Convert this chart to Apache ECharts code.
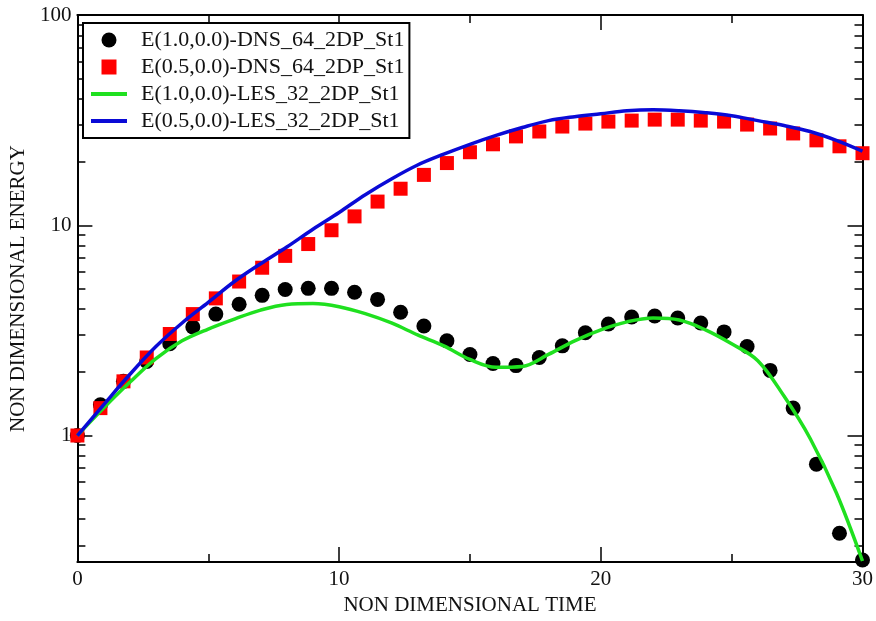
<!DOCTYPE html>
<html>
<head>
<meta charset="utf-8">
<script src="https://cdn.jsdelivr.net/npm/echarts@6/dist/echarts.min.js"></script>
<style>
html,body{margin:0;padding:0;background:#fff;}
#chart{width:876px;height:621px;}
</style>
</head>
<body>
<div id="chart"></div>
<script>
// DNS sample times
const dnsTimes = [0, 0.88, 1.76, 2.65, 3.53, 4.41, 5.29, 6.18, 7.06, 7.94, 8.82, 9.71, 10.59, 11.47, 12.35, 13.24, 14.12, 15.0, 15.88, 16.76, 17.65, 18.53, 19.41, 20.29, 21.18, 22.06, 22.94, 23.82, 24.71, 25.59, 26.47, 27.35, 28.24, 29.12, 30.0];
const dnsE10 = [1.00, 1.40, 1.81, 2.25, 2.73, 3.28, 3.78, 4.21, 4.64, 4.95, 5.01, 5.01, 4.80, 4.44, 3.86, 3.32, 2.82, 2.43, 2.20, 2.15, 2.35, 2.67, 3.08, 3.39, 3.66, 3.70, 3.62, 3.43, 3.11, 2.65, 2.04, 1.35, 0.731, 0.343, 0.256];
const dnsE05 = [1.00, 1.35, 1.81, 2.35, 3.04, 3.78, 4.49, 5.40, 6.28, 7.15, 8.14, 9.47, 11.02, 12.96, 14.92, 17.36, 19.76, 22.25, 24.27, 26.46, 27.92, 29.48, 30.45, 31.12, 31.46, 31.80, 31.80, 31.46, 31.12, 30.12, 28.85, 27.33, 25.34, 23.74, 22.01];
// LES sample times
const lesTimes = [0, 1, 2, 3, 4, 5, 6, 7, 8, 9, 10, 11, 12, 13, 14, 15, 16, 17, 18, 19, 20, 21, 22, 23, 24, 25, 26, 27, 28, 29, 30];
const lesE10 = [1.00, 1.35, 1.79, 2.32, 2.82, 3.21, 3.58, 3.95, 4.20, 4.24, 4.10, 3.80, 3.43, 3.01, 2.67, 2.30, 2.11, 2.13, 2.43, 2.82, 3.18, 3.47, 3.62, 3.54, 3.18, 2.73, 2.27, 1.54, 0.968, 0.534, 0.253];
const lesE05 = [1.00, 1.40, 1.95, 2.65, 3.43, 4.30, 5.40, 6.56, 7.88, 9.58, 11.51, 13.98, 16.60, 19.34, 21.78, 24.27, 26.75, 29.16, 31.46, 32.85, 33.93, 35.04, 35.42, 35.04, 34.29, 33.20, 31.46, 29.81, 27.93, 25.34, 22.50];

const seriesNames = ['E(1.0,0.0)-DNS_64_2DP_St1', 'E(0.5,0.0)-DNS_64_2DP_St1', 'E(1.0,0.0)-LES_32_2DP_St1', 'E(0.5,0.0)-LES_32_2DP_St1'];
const xTickLabels = [0, 10, 20, 30];
const yMajorTicks = [1, 10, 100];
const yMinorTicks = [0.3, 0.4, 0.5, 0.6, 0.7, 0.8, 0.9, 2, 3, 4, 5, 6, 7, 8, 9, 20, 30, 40, 50, 60, 70, 80, 90];
const xTitle = 'NON DIMENSIONAL TIME';
const yTitle = 'NON DIMENSIONAL ENERGY';

const pairs = (xs, ys) => xs.map((x, i) => [x, ys[i]]);

const FONT = 'Liberation Serif';
const axisLineStyle = { color: '#000', width: 2 };
const tickStyle = { color: '#000', width: 1.5 };
const GREEN = '#1fe01f';
const BLUE = '#0a0ad6';

function xAxisDef(pos, showLabels) {
  return {
    type: 'value', position: pos, min: 0, max: 30, interval: 10,
    axisLine: { show: true, onZero: false, lineStyle: axisLineStyle },
    axisTick: { show: true, inside: true, length: 15, lineStyle: tickStyle },
    minorTick: { show: true, splitNumber: 2, length: 8, lineStyle: tickStyle },
    splitLine: { show: false },
    axisLabel: showLabels ? {
      show: true, margin: 7, color: '#111', fontFamily: FONT, fontSize: 21,
      customValues: xTickLabels
    } : { show: false },
    name: showLabels ? xTitle : '',
    nameLocation: 'middle', nameGap: 27,
    nameTextStyle: { color: '#111', fontFamily: FONT, fontSize: 21 }
  };
}
function yAxisDef(pos, ticks, len, showLine, showLabels) {
  return {
    type: 'log', logBase: 10, position: pos, min: 0.25, max: 100,
    axisLine: { show: showLine, onZero: false, lineStyle: axisLineStyle },
    axisTick: { show: true, inside: true, length: len, customValues: ticks, lineStyle: tickStyle },
    minorTick: { show: false },
    splitLine: { show: false },
    axisLabel: showLabels ? {
      show: true, margin: 6, color: '#111', fontFamily: FONT, fontSize: 21,
      customValues: yMajorTicks
    } : { show: false },
    name: showLabels ? yTitle : '',
    nameLocation: 'middle', nameGap: 43,
    nameTextStyle: { color: '#111', fontFamily: FONT, fontSize: 21 }
  };
}

const chart = echarts.init(document.getElementById('chart'), null, { renderer: 'canvas' });
chart.setOption({
  backgroundColor: '#fff',
  animation: false,
  grid: { left: 76, right: 9, top: 15, bottom: 53 },
  xAxis: [xAxisDef('bottom', true), xAxisDef('top', false)],
  yAxis: [
    yAxisDef('left', yMajorTicks, 15, true, true),
    yAxisDef('left', yMinorTicks, 8, false, false),
    yAxisDef('right', yMajorTicks, 15, true, false),
    yAxisDef('right', yMinorTicks, 8, false, false)
  ],
  legend: {
    left: 83, top: 23, orient: 'vertical',
    padding: [6, 5, 6, 8],
    itemGap: 5, itemWidth: 36, itemHeight: 15,
    symbolKeepAspect: true,
    backgroundColor: '#fff', borderColor: '#000', borderWidth: 2,
    textStyle: { fontFamily: FONT, fontSize: 22, color: '#111', lineHeight: 22, padding: [0, 0, 0, 9] },
    data: [
      { name: seriesNames[0], icon: 'circle', itemStyle: { color: '#000', opacity: 1 } },
      { name: seriesNames[1], icon: 'path://M0 0H10V10H0Z', itemStyle: { color: '#f00', opacity: 1 } },
      { name: seriesNames[2], icon: 'path://M0 0H36V4H0Z', itemStyle: { color: GREEN } },
      { name: seriesNames[3], icon: 'path://M0 0H36V4H0Z', itemStyle: { color: BLUE } }
    ]
  },
  series: [
    {
      name: seriesNames[0], type: 'scatter', symbol: 'circle', symbolSize: 15,
      itemStyle: { color: '#000', opacity: 1 }, data: pairs(dnsTimes, dnsE10)
    },
    {
      name: seriesNames[1], type: 'scatter', symbol: 'rect', symbolSize: 14,
      itemStyle: { color: '#f00', opacity: 1 }, data: pairs(dnsTimes, dnsE05)
    },
    {
      name: seriesNames[2], type: 'line', symbol: 'none', showSymbol: false, smooth: 0.35,
      lineStyle: { color: GREEN, width: 3.5 }, itemStyle: { color: GREEN },
      data: pairs(lesTimes, lesE10)
    },
    {
      name: seriesNames[3], type: 'line', symbol: 'none', showSymbol: false, smooth: 0.35,
      lineStyle: { color: BLUE, width: 3.5 }, itemStyle: { color: BLUE },
      data: pairs(lesTimes, lesE05)
    }
  ]
});
</script>
</body>
</html>
